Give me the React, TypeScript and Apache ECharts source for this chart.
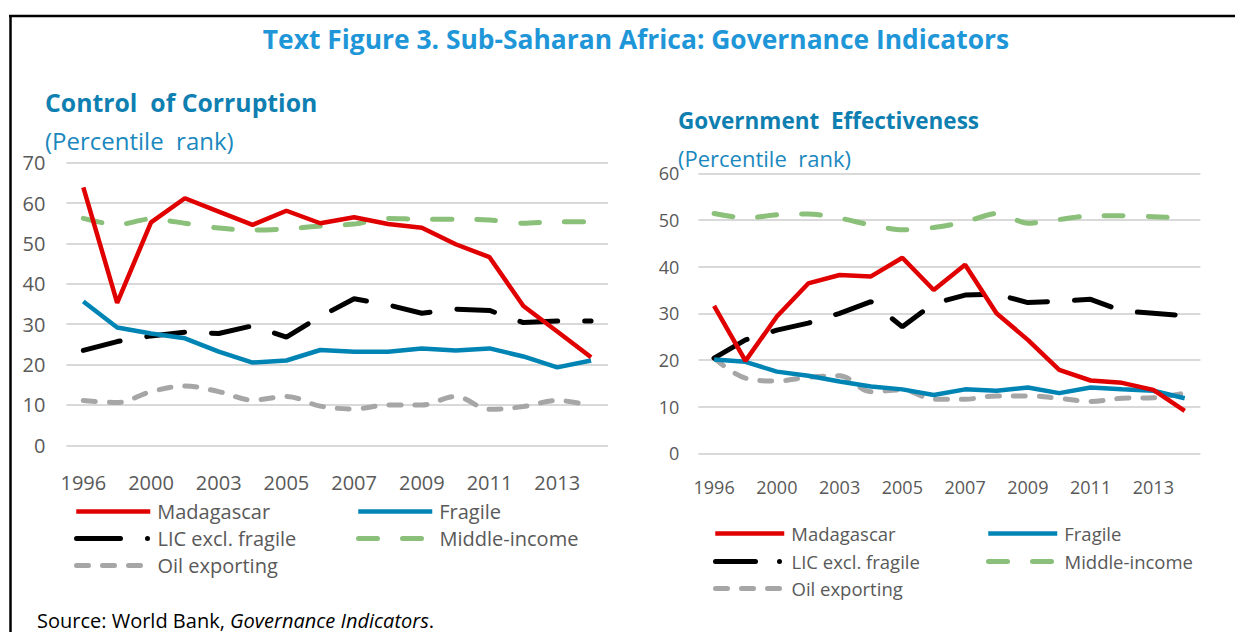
import React, { useEffect, useRef } from "react";
import * as echarts from "echarts";

// ---------- data ----------
const YEARS = [
  "1996", "1998", "2000", "2002", "2003", "2004", "2005", "2006",
  "2007", "2008", "2009", "2010", "2011", "2012", "2013", "2014",
];

const SERIES_NAMES = [
  "Madagascar",
  "Fragile",
  "LIC excl. fragile",
  "Middle-income",
  "Oil exporting",
];

// Control of Corruption (percentile rank)
const COC_MADAGASCAR = [63.9, 35.3, 55.2, 61.2, 57.9, 54.6, 58.1, 55.0, 56.5, 54.8, 53.9, 49.8, 46.6, 34.5, 28.2, 21.8];
const COC_FRAGILE = [35.6, 29.2, 27.7, 26.5, 23.2, 20.5, 21.0, 23.6, 23.2, 23.2, 24.0, 23.5, 24.0, 22.0, 19.3, 21.0];
const COC_LIC = [23.5, 25.7, 27.1, 28.0, 27.7, 29.6, 26.8, 31.9, 36.3, 34.8, 32.7, 33.7, 33.4, 30.4, 30.8, 30.8];
const COC_MIDDLE = [56.2, 54.6, 56.1, 55.0, 53.8, 53.3, 53.6, 54.3, 54.8, 56.2, 56.0, 56.0, 55.8, 55.0, 55.4, 55.4];
const COC_OIL = [11.1, 10.6, 13.3, 14.7, 13.3, 11.2, 12.1, 9.7, 9.0, 10.0, 10.0, 12.1, 8.9, 9.6, 11.1, 9.8];

// Government Effectiveness (percentile rank)
const GE_MADAGASCAR = [31.6, 19.8, 29.3, 36.4, 38.2, 37.9, 41.9, 35.0, 40.4, 30.0, 24.3, 17.9, 15.6, 15.1, 13.6, 9.1];
const GE_FRAGILE = [20.1, 19.6, 17.5, 16.6, 15.4, 14.3, 13.7, 12.5, 13.7, 13.4, 14.1, 12.9, 14.1, 13.7, 13.4, 11.8];
const GE_LIC = [20.4, 24.3, 26.4, 27.9, 30.0, 32.5, 27.1, 32.1, 33.9, 34.1, 32.3, 32.6, 33.0, 30.5, 30.0, 29.5];
const GE_MIDDLE = [51.4, 50.4, 51.1, 51.3, 50.4, 48.9, 47.9, 48.4, 49.6, 51.4, 49.3, 50.1, 50.9, 50.9, 50.7, 50.4];
const GE_OIL = [20.4, 16.1, 15.5, 16.3, 16.6, 13.2, 13.6, 11.6, 11.6, 12.3, 12.3, 11.8, 11.1, 11.8, 11.9, 12.9];

const COC_VALUES = [COC_MADAGASCAR, COC_FRAGILE, COC_LIC, COC_MIDDLE, COC_OIL];
const GE_VALUES = [GE_MADAGASCAR, GE_FRAGILE, GE_LIC, GE_MIDDLE, GE_OIL];

const MAIN_TITLE = "Text Figure 3. Sub-Saharan Africa: Governance Indicators";
const LEFT_TITLE = "Control  of Corruption";
const RIGHT_TITLE = "Government  Effectiveness";
const UNIT_LABEL = "(Percentile  rank)";

// ---------- styles ----------
const FONT = "'Open Sans', 'Noto Sans', sans-serif";
const AXIS_TEXT = "#595959";
const LINE_STYLES: any[] = [
  { color: "#E00000", width: 4.5, type: "solid", cap: "butt", smooth: false },
  { color: "#0084B4", width: 4.5, type: "solid", cap: "butt", smooth: false },
  { color: "#000000", width: 5, type: [38, 27], cap: "round", smooth: false },
  { color: "#8BC07A", width: 5, type: [19, 25], cap: "round", smooth: 0.25 },
  { color: "#A6A6A6", width: 5, type: [12, 14], cap: "round", smooth: 0.35 },
];

function buildSeries(values: number[][], axis: number) {
  return values.map((vals, i) => {
    const st = LINE_STYLES[i];
    return {
      name: SERIES_NAMES[i],
      type: "line",
      xAxisIndex: axis,
      yAxisIndex: axis,
      data: vals,
      symbol: "none",
      smooth: st.smooth,
      z: 10 - i,
      lineStyle: { color: st.color, width: st.width, type: st.type, cap: st.cap },
      itemStyle: { color: st.color },
    };
  });
}

function buildLegends(
  colX: number[],
  rowY: number[],
  iconW: number,
  fontSize: number,
  dashDot: number[]
) {
  const slots = [
    [0, 0], [1, 0], [0, 1], [1, 1], [0, 2],
  ];
  return SERIES_NAMES.map((name, i) => {
    const [c, r] = slots[i];
    const st = LINE_STYLES[i];
    const lineStyle: any = { width: st.width, cap: st.cap };
    if (i === 2) lineStyle.type = dashDot;
    return {
      show: true,
      selectedMode: false,
      orient: "horizontal",
      left: colX[c],
      top: rowY[r] - 11,
      padding: 0,
      itemWidth: iconW,
      itemHeight: 10,
      itemGap: 0,
      data: [{ name }],
      lineStyle,
      itemStyle: { opacity: 0 },
      textStyle: { fontFamily: FONT, fontSize, color: AXIS_TEXT, padding: [0, 0, 0, 2] },
    };
  });
}

export default function App() {
  const ref = useRef<HTMLDivElement>(null);

  useEffect(() => {
    if (!ref.current) return;
    const chart = echarts.init(ref.current, undefined, { renderer: "svg" });

    const xAxisBase = (fontSize: number, margin: number, gridIndex: number) => ({
      type: "category",
      gridIndex,
      data: YEARS,
      boundaryGap: true,
      axisLine: { show: false },
      axisTick: { show: false },
      axisLabel: {
        interval: 1,
        margin,
        fontSize,
        fontFamily: FONT,
        color: AXIS_TEXT,
      },
      splitLine: { show: false },
    });

    const yAxisBase = (max: number, fontSize: number, margin: number, gridIndex: number) => ({
      type: "value",
      gridIndex,
      min: 0,
      max,
      interval: 10,
      axisLine: { show: false },
      axisTick: { show: false },
      axisLabel: { margin, fontSize, fontFamily: FONT, color: AXIS_TEXT },
      splitLine: { show: true, lineStyle: { color: "#D9D9D9", width: 2 } },
    });

    const option: any = {
      animation: false,
      backgroundColor: "#ffffff",
      grid: [
        { left: 66.4, top: 162.7, width: 541.6, height: 282.6 },
        { left: 698.4, top: 173.3, width: 502, height: 280 },
      ],
      xAxis: [xAxisBase(20, 27, 0), xAxisBase(18, 25, 1)],
      yAxis: [yAxisBase(70, 20, 21, 0), yAxisBase(60, 18, 19, 1)],
      legend: [
        ...buildLegends([74, 356], [512.5, 539.5, 566.5], 74, 20, [44, 27, 0, 200]),
        ...buildLegends([713, 986], [535, 563, 590], 69, 18.5, [40, 24, 0, 200]),
      ],
      series: [...buildSeries(COC_VALUES, 0), ...buildSeries(GE_VALUES, 1)],
      graphic: [
        {
          type: "line",
          shape: { x1: 9, y1: 16, x2: 1235, y2: 16 },
          style: { stroke: "#000", lineWidth: 2.5 },
        },
        {
          type: "line",
          shape: { x1: 10.5, y1: 15, x2: 10.5, y2: 632 },
          style: { stroke: "#000", lineWidth: 2.5 },
        },
        {
          type: "text",
          x: 636,
          y: 38.5,
          style: {
            text: MAIN_TITLE,
            fontFamily: FONT,
            fontWeight: "bold",
            fontSize: 26.4,
            fill: "#1E96D8",
            align: "center",
            verticalAlign: "middle",
          },
        },
        {
          type: "text",
          x: 45,
          y: 102,
          style: {
            text: LEFT_TITLE,
            fontFamily: FONT,
            fontWeight: "bold",
            fontSize: 24.8,
            fill: "#0E7FB0",
            align: "left",
            verticalAlign: "middle",
          },
        },
        {
          type: "text",
          x: 45,
          y: 140,
          style: {
            text: UNIT_LABEL,
            fontFamily: FONT,
            fontSize: 24,
            fill: "#1A88BE",
            align: "left",
            verticalAlign: "middle",
          },
        },
        {
          type: "text",
          x: 678,
          y: 120,
          style: {
            text: RIGHT_TITLE,
            fontFamily: FONT,
            fontWeight: "bold",
            fontSize: 22.5,
            fill: "#0E7FB0",
            align: "left",
            verticalAlign: "middle",
          },
        },
        {
          type: "text",
          x: 678,
          y: 158,
          style: {
            text: UNIT_LABEL,
            fontFamily: FONT,
            fontSize: 22,
            fill: "#1A88BE",
            align: "left",
            verticalAlign: "middle",
          },
        },
        {
          type: "text",
          x: 37,
          y: 620,
          style: {
            text: "{a|Source: World Bank, }{b|Governance Indicators}{a|.}",
            fontFamily: FONT,
            fontSize: 20,
            fill: "#000",
            align: "left",
            verticalAlign: "middle",
            rich: {
              a: { fontFamily: FONT, fontSize: 20, fill: "#000" },
              b: { fontFamily: FONT, fontSize: 20, fontStyle: "italic", fill: "#000" },
            },
          },
        },
      ],
    };

    chart.setOption(option);
    return () => chart.dispose();
  }, []);

  return (
    <div
      ref={ref}
      style={{ position: "absolute", left: 0, top: 0, width: 1235, height: 632 }}
    />
  );
}
